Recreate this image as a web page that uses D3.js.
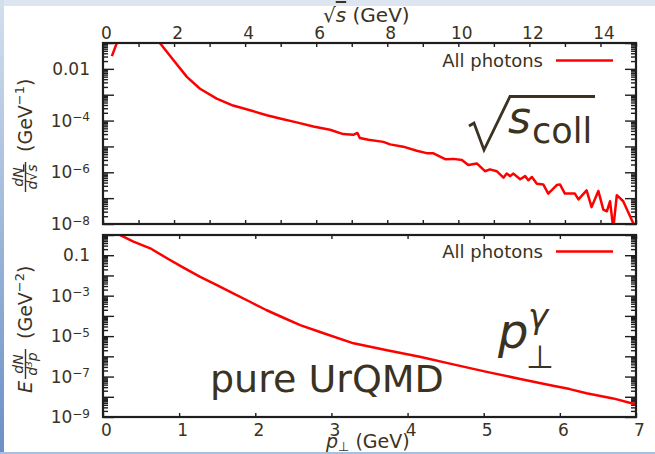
<!DOCTYPE html>
<html>
<head>
<meta charset="utf-8">
<script src="https://cdn.jsdelivr.net/npm/d3@7"></script>
<style>
    body { margin: 0; background: #fff; }
    svg text { font-family: "DejaVu Sans", sans-serif; fill: #3b3222; }
    .tick line { stroke: #1e1e1e; stroke-width: 1.4; }
    .frame { fill: none; stroke: #1e1e1e; stroke-width: 2.2; }
    .curve { fill: none; stroke: #ff0000; stroke-width: 2.5; stroke-linejoin: round; }
</style>
</head>
<body>
<div id="chart"></div>
<script>
//sqrt(s) spectrum (GeV, GeV^-1)
var sqrtsX = [0.25, 0.40, 0.60, 1.00, 1.40, 1.60, 1.98, 2.36, 2.73, 3.20, 3.66, 4.14, 4.61, 4.98, 5.45,
    5.92, 6.39, 6.76, 7.04, 7.16, 7.23, 7.47, 7.89, 8.08, 8.45, 8.83, 9.11, 9.30, 9.63, 9.86,
    10.10, 10.28, 10.52, 10.75, 10.89, 11.08, 11.27, 11.36, 11.46, 11.55, 11.74, 11.88, 11.97, 12.07, 12.21,
    12.39, 12.53, 12.77, 12.86, 13.00, 13.28, 13.38, 13.61, 13.75, 13.94, 14.08, 14.18, 14.27, 14.36, 14.46,
    14.64, 14.94];
var sqrtsY = [3.1e-2, 1.1e-1, 3.5e-1, 6.0e-1, 2.0e-1, 1.0e-1, 2.2e-2, 4.9e-3, 1.7e-3, 7.1e-4, 3.8e-4, 2.5e-4, 1.6e-4, 1.2e-4, 8.5e-5,
    5.9e-5, 4.4e-5, 3.0e-5, 2.8e-5, 3.3e-5, 2.1e-5, 1.8e-5, 1.5e-5, 1.2e-5, 9.8e-6, 6.8e-6, 5.5e-6, 5.4e-6, 3.2e-6, 3.3e-6,
    3.0e-6, 1.9e-6, 2.2e-6, 1.1e-6, 1.3e-6, 1.1e-6, 6.2e-7, 8.9e-7, 7.1e-7, 8.9e-7, 5.4e-7, 7.1e-7, 4.9e-7, 6.6e-7, 3.6e-7,
    3.4e-7, 1.5e-7, 3.2e-7, 3.4e-7, 1.5e-7, 1.5e-7, 8.9e-8, 2.0e-7, 4.5e-8, 1.9e-7, 3.6e-8, 3.1e-8, 7.6e-8, 6.6e-9, 1.3e-7,
    7.6e-8, 9.5e-9];

//transverse momentum spectrum (GeV, GeV^-2)
var ptX = [0.20, 0.40, 0.62, 0.84, 1.05, 1.27, 1.49, 1.71, 1.93, 2.15, 2.37, 2.59, 2.85, 3.29, 3.73, 4.16,
    4.60, 5.04, 5.48, 5.91, 6.13, 6.35, 6.70, 6.99];
var ptY = [1.1, 4.7e-1, 2.2e-1, 7.1e-2, 2.5e-2, 8.7e-3, 3.4e-3, 1.3e-3, 5.0e-4, 1.9e-4, 8.1e-5, 3.5e-5, 1.6e-5, 4.4e-6, 2.0e-6, 9.5e-7,
    4.0e-7, 1.7e-7, 7.6e-8, 3.5e-8, 2.4e-8, 1.5e-8, 8.3e-9, 4.3e-9];

//axis ranges and tick labels
var sqrtsDomain = [0, 15];
var sqrtsTicks = d3.range(0, 16);
var sqrtsYDomain = [1e-8, 1e-1];
var sqrtsYLabels = [1e-2, 1e-4, 1e-6, 1e-8];
var ptDomain = [0, 7];
var ptTicks = d3.range(0, 8);
var ptYDomain = [1e-9, 1];
var ptYLabels = [1e-1, 1e-3, 1e-5, 1e-7, 1e-9];
var legendLabel = "All photons";

function init() {
    var w = 655;
    var h = 454;
    var left = 103, right = 636;

    var svg = d3.select("#chart")
        .append("svg")
        .attr("width", w)
        .attr("height", h);

    //slide frame around the picture
    var grad = svg.append("defs").append("linearGradient")
        .attr("id", "sideGrad").attr("x1", 0).attr("y1", 0).attr("x2", 0).attr("y2", 1);
    grad.append("stop").attr("offset", "0%").attr("stop-color", "#d3dfee");
    grad.append("stop").attr("offset", "100%").attr("stop-color", "#6a90c6");
    svg.append("rect").attr("x", 0).attr("y", 0).attr("width", w).attr("height", 6).attr("fill", "#dce5f0");
    svg.append("rect").attr("x", 0).attr("y", 0).attr("width", 4).attr("height", h).attr("fill", "url(#sideGrad)");
    svg.append("rect").attr("x", 0).attr("y", 452).attr("width", w).attr("height", 2).attr("fill", "#a9bfdf");

    //label with "10" and a superscript exponent
    function logLabel(sel) {
        sel.each(function (d) {
            var t = d3.select(this);
            var e = Math.round(Math.log10(d));
            t.text(null);
            if (e >= -2) {
                t.text(d3.format("")(+d.toPrecision(1)));
            } else {
                t.append("tspan").text("10");
                t.append("tspan").attr("dy", "-0.45em").attr("font-size", "12px").text("\u2212" + (-e));
            }
        });
    }

    //minor ticks 2..9 in every decade
    function minorTicks(domain) {
        var out = [];
        for (var e = Math.round(Math.log10(domain[0])); e < Math.round(Math.log10(domain[1])); e++) {
            for (var m = 2; m < 10; m++) out.push(m * Math.pow(10, e));
        }
        return out;
    }
    function decades(domain) {
        var out = [];
        for (var e = Math.round(Math.log10(domain[0])); e <= Math.round(Math.log10(domain[1])); e++) {
            out.push(Math.pow(10, e));
        }
        return out;
    }

    //draws one log-scale panel
    function panel(top, bottom, xDomain, xTicks, yDomain, yLabels, xs, ys, labelTop, legendY) {
        var xScale = d3.scaleLinear().domain(xDomain).range([left, right]);
        var yScale = d3.scaleLog().domain(yDomain).range([bottom, top]);
        var g = svg.append("g");
        var id = "clip" + top;

        g.append("clipPath").attr("id", id)
            .append("rect").attr("x", left).attr("y", top)
            .attr("width", right - left).attr("height", bottom - top);

        //x axes top and bottom, ticks inside
        var xTop = d3.axisTop(xScale).tickValues(xTicks).tickSizeInner(-4).tickSizeOuter(0).tickPadding(4)
            .tickFormat(function (d) { return (labelTop && d % 2 === 0) ? d : ""; });
        var xBottom = d3.axisBottom(xScale).tickValues(xTicks).tickSizeInner(-4).tickSizeOuter(0).tickPadding(7)
            .tickFormat(function (d) { return labelTop ? "" : d; });
        g.append("g").attr("class", "xax").attr("transform", "translate(0," + top + ")").call(xTop);
        g.append("g").attr("class", "xax").attr("transform", "translate(0," + bottom + ")").call(xBottom);

        //y axes left and right, major and minor ticks inside
        var majors = decades(yDomain);
        var minors = minorTicks(yDomain);
        g.append("g").attr("transform", "translate(" + left + ",0)")
            .call(d3.axisLeft(yScale).tickValues(majors).tickSizeInner(-11).tickSizeOuter(0).tickPadding(13)
                .tickFormat(function (d) { return yLabels.indexOf(d) >= 0 ? d : ""; }))
            .selectAll(".tick text")
            .filter(function (d) { return yLabels.some(function (v) { return Math.abs(v / d - 1) < 1e-6; }); })
            .call(logLabel);
        g.append("g").attr("transform", "translate(" + left + ",0)")
            .call(d3.axisLeft(yScale).tickValues(minors).tickSizeInner(-5).tickSizeOuter(0).tickFormat(""));
        g.append("g").attr("transform", "translate(" + right + ",0)")
            .call(d3.axisRight(yScale).tickValues(majors).tickSizeInner(-11).tickSizeOuter(0).tickFormat(""));
        g.append("g").attr("transform", "translate(" + right + ",0)")
            .call(d3.axisRight(yScale).tickValues(minors).tickSizeInner(-5).tickSizeOuter(0).tickFormat(""));

        g.selectAll(".domain").remove();
        g.selectAll(".tick text")
            .attr("font-size", "17px")
            .attr("font-family", "DejaVu Sans, sans-serif")
            .attr("fill", "#3b3222");
        g.selectAll(".xax .tick text").attr("dx", 3);

        //the spectrum
        var line = d3.line()
            .x(function (d) { return xScale(d[0]); })
            .y(function (d) { return yScale(d[1]); });
        g.append("path")
            .datum(d3.zip(xs, ys))
            .attr("class", "curve")
            .attr("clip-path", "url(#" + id + ")")
            .attr("d", line);

        g.append("rect").attr("class", "frame")
            .attr("x", left).attr("y", top)
            .attr("width", right - left).attr("height", bottom - top);

        //legend
        g.append("text").attr("x", 543).attr("y", legendY + 6)
            .attr("text-anchor", "end").attr("font-size", "18px").text(legendLabel);
        g.append("line").attr("class", "curve")
            .attr("x1", 556).attr("x2", 613).attr("y1", legendY).attr("y2", legendY);
    }

    panel(43, 224, sqrtsDomain, sqrtsTicks, sqrtsYDomain, sqrtsYLabels, sqrtsX, sqrtsY, true, 60.5);
    panel(235, 417, ptDomain, ptTicks, ptYDomain, ptYLabels, ptX, ptY, false, 251.5);

    //axis titles
    var tt = svg.append("text").attr("x", 323).attr("y", 22).attr("font-size", "20px");
    tt.append("tspan").text("\u221A");
    tt.append("tspan").attr("font-style", "italic").attr("text-decoration", "overline").text("s");
    tt.append("tspan").text(" (GeV)");

    var bt = svg.append("text").attr("x", 326).attr("y", 448).attr("font-size", "19px");
    bt.append("tspan").attr("font-style", "italic").text("p");
    bt.append("tspan").attr("font-size", "13px").attr("dy", 3).text("\u22A5");
    bt.append("tspan").attr("dy", -3).text(" (GeV)");

    //rotated y titles with a fraction
    function yTitle(x, y, prefix, num, den, fracStart, unitExp) {
        var g = svg.append("g").attr("transform", "translate(" + x + "," + y + ") rotate(-90)");
        var c = fracStart + 15;
        if (prefix) {
            g.append("text").attr("x", 0).attr("y", 0).attr("font-size", "19px")
                .attr("font-style", "italic").text(prefix);
        }
        g.append("text").attr("x", c).attr("y", -9).attr("text-anchor", "middle")
            .attr("font-size", "14px").attr("font-style", "italic").text(num);
        g.append("line").attr("x1", fracStart).attr("x2", fracStart + 30).attr("y1", -6.5).attr("y2", -6.5)
            .attr("stroke", "#3b3222").attr("stroke-width", 1.4);
        var d = g.append("text").attr("x", c).attr("y", 5).attr("text-anchor", "middle")
            .attr("font-size", "14px").attr("font-style", "italic");
        den(d);
        var u = g.append("text").attr("x", fracStart + 40).attr("y", 0).attr("font-size", "19px");
        u.append("tspan").text("(GeV");
        u.append("tspan").attr("font-size", "13px").attr("dy", -8).text("\u2212" + unitExp);
        u.append("tspan").attr("dy", 8).text(")");
    }
    yTitle(32, 193, null, "dN", function (t) {
        t.append("tspan").text("d\u221A");
        t.append("tspan").attr("text-decoration", "overline").text("s");
    }, 1, 1);
    yTitle(32, 393, "E", "dN", function (t) {
        t.append("tspan").text("d");
        t.append("tspan").attr("font-size", "9px").attr("dy", -5).text("3");
        t.append("tspan").attr("dy", 5).text("p");
    }, 14, 2);

    //annotations
    svg.append("path")
        .attr("d", "M469,126 L474,123 L484,150 L510,96.5 L595,96.5")
        .attr("fill", "none").attr("stroke", "#3b3222").attr("stroke-width", 2.8);
    svg.append("text").attr("x", 508).attr("y", 133).attr("font-size", "44px")
        .attr("font-style", "italic").text("s");
    svg.append("text").attr("x", 532).attr("y", 143).attr("font-size", "35px").text("coll");

    svg.append("text").attr("x", 498).attr("y", 348).attr("font-size", "48px")
        .attr("font-style", "italic").text("p");
    svg.append("text").attr("x", 528).attr("y", 328).attr("font-size", "34px")
        .attr("font-style", "italic").attr("font-family", "DejaVu Serif, serif").text("\u03B3");
    svg.append("text").attr("x", 526).attr("y", 368).attr("font-size", "32px").text("\u22A5");

    svg.append("text").attr("x", 210).attr("y", 392).attr("font-size", "38px").text("pure UrQMD");
}

window.onload = init;
</script>
</body>
</html>
